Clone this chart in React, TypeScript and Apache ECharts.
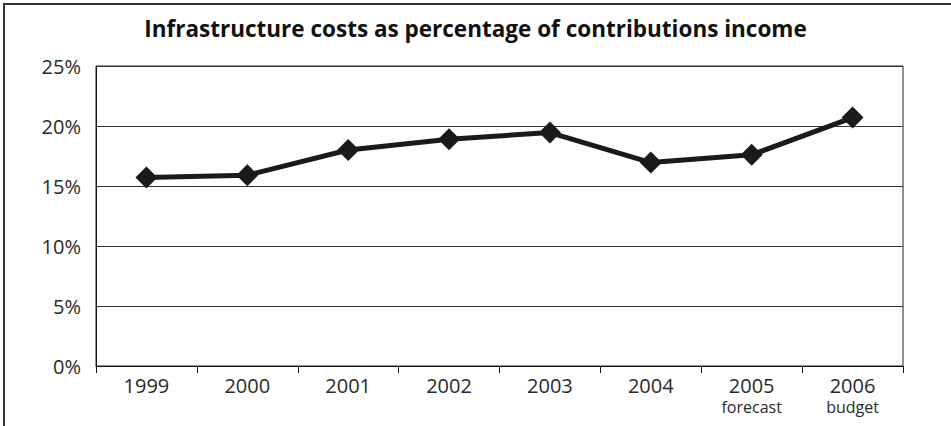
import React, { useEffect, useRef } from "react";
import * as echarts from "echarts";

const title = "Infrastructure costs as percentage of contributions income";
const years = ["1999", "2000", "2001", "2002", "2003", "2004", "2005", "2006"];
const yearNotes = ["", "", "", "", "", "", "forecast", "budget"];
const costShare = [15.7, 15.9, 18.0, 18.9, 19.45, 16.95, 17.6, 20.7];
const yTicks = [0, 5, 10, 15, 20, 25];

const FONT = "'Open Sans', 'Noto Sans', sans-serif";

export default function App() {
  const ref = useRef<HTMLDivElement>(null);

  useEffect(() => {
    document.body.style.margin = "0";
    if (!ref.current) return;
    const chart = echarts.init(ref.current, null, { renderer: "svg" });
    const categories = years.map((y, i) =>
      yearNotes[i] ? `{year|${y}}\n{note|${yearNotes[i]}}` : `{year|${y}}`
    );
    chart.setOption({
      animation: false,
      backgroundColor: "#ffffff",
      textStyle: { fontFamily: FONT },
      graphic: [
        {
          type: "rect",
          shape: { x: 4, y: 4, width: 1200, height: 1200 },
          style: { fill: "none", stroke: "#333", lineWidth: 2 },
          silent: true,
        },
        {
          type: "text",
          left: "center",
          top: 17,
          style: {
            text: title,
            font: `bold 22.5px ${FONT}`,
            fill: "#111",
          },
        },
      ],
      grid: {
        left: 96,
        top: 66,
        width: 807,
        height: 300,
        show: true,
        borderColor: "#222",
        borderWidth: 1,
        containLabel: false,
      },
      xAxis: {
        type: "category",
        data: categories,
        boundaryGap: true,
        axisLine: { lineStyle: { color: "#111", width: 1 } },
        axisTick: { show: true, length: 7, interval: 0, lineStyle: { color: "#111" } },
        axisLabel: {
          interval: 0,
          color: "#2a2a2a",
          margin: 7,
          fontFamily: FONT,
          rich: {
            year: { fontSize: 20, lineHeight: 24, color: "#2a2a2a", fontFamily: FONT },
            note: { fontSize: 16, lineHeight: 20, color: "#2a2a2a", fontFamily: FONT },
          },
        },
      },
      yAxis: {
        type: "value",
        min: yTicks[0],
        max: yTicks[yTicks.length - 1],
        interval: 5,
        axisLine: { show: true, lineStyle: { color: "#111", width: 1 } },
        axisTick: { show: false },
        splitLine: { show: true, lineStyle: { color: "#333", width: 1 } },
        axisLabel: {
          color: "#2a2a2a",
          fontSize: 20,
          margin: 15,
          fontFamily: FONT,
          formatter: (v: number) => `${v}%`,
        },
      },
      series: [
        {
          type: "line",
          data: costShare,
          symbol: "diamond",
          symbolSize: 22,
          lineStyle: { color: "#1a1a1a", width: 5 },
          itemStyle: { color: "#1a1a1a" },
          z: 5,
        },
      ],
    });
    return () => chart.dispose();
  }, []);

  return <div ref={ref} style={{ width: 951, height: 426 }} />;
}
